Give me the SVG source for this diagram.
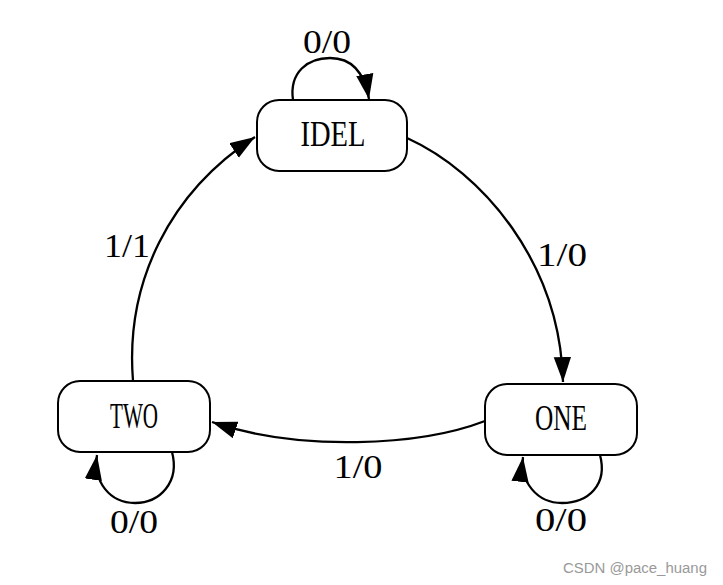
<svg xmlns="http://www.w3.org/2000/svg" width="723" height="585" viewBox="0 0 723 585">
<style>
.node rect{fill:#fff;stroke:#000;stroke-width:2}
.t{font-family:"Liberation Serif",serif;font-size:34px;fill:#000;text-anchor:middle}
.n{font-size:36px}
.e{fill:none;stroke:#000;stroke-width:2.3;marker-end:url(#ah)}
.wm{font-family:"Liberation Sans",Arial,sans-serif;font-size:14px;fill:#999}
</style>
<defs>
<marker id="ah" markerUnits="userSpaceOnUse" markerWidth="26" markerHeight="18" refX="23" refY="8" orient="auto" viewBox="0 0 24 16">
<path d="M0,0 L23,8 L0,16 Z" fill="#000"/>
</marker>
</defs>
<rect width="723" height="585" fill="#fff"/>
<g id="edges">
<path class="e" d="M293,100 C289,72 308,58 330,58 C350,58 364,70 369,99"/>
<path class="e" d="M407,138 C482,172 560,262 563,382"/>
<path class="e" d="M485,421 C420,446 300,452 212,422"/>
<path class="e" d="M133,381 C125,282 170,192 255,137"/>
<path class="e" d="M172,452 C180,482 160,503 135,503 C110,503 93,482 97,455"/>
<path class="e" d="M600,455 C608,485 588,503 562,503 C537,503 520,482 523,457"/>
</g>
<g id="IDEL" class="node">
<rect x="257" y="100" width="150" height="71" rx="22"/>
<text class="t n" x="333" y="146" textLength="65" lengthAdjust="spacingAndGlyphs">IDEL</text>
</g>
<g id="TWO" class="node">
<rect x="58" y="381" width="152" height="71" rx="22"/>
<text class="t n" x="134" y="428" textLength="48" lengthAdjust="spacingAndGlyphs">TWO</text>
</g>
<g id="ONE" class="node">
<rect x="485" y="384" width="152" height="71" rx="22"/>
<text class="t n" x="561" y="430" textLength="52" lengthAdjust="spacingAndGlyphs">ONE</text>
</g>
<g id="labels">
<text class="t" x="327" y="53" textLength="48" lengthAdjust="spacingAndGlyphs">0/0</text>
<text class="t" x="562" y="266" textLength="50" lengthAdjust="spacingAndGlyphs">1/0</text>
<text class="t" x="358" y="478" textLength="49" lengthAdjust="spacingAndGlyphs">1/0</text>
<text class="t" x="127" y="257" textLength="46" lengthAdjust="spacingAndGlyphs">1/1</text>
<text class="t" x="134" y="533" textLength="48" lengthAdjust="spacingAndGlyphs">0/0</text>
<text class="t" x="561" y="531" textLength="52" lengthAdjust="spacingAndGlyphs">0/0</text>
</g>
<text class="wm" x="563" y="573" textLength="144" lengthAdjust="spacingAndGlyphs">CSDN @pace_huang</text>
</svg>
